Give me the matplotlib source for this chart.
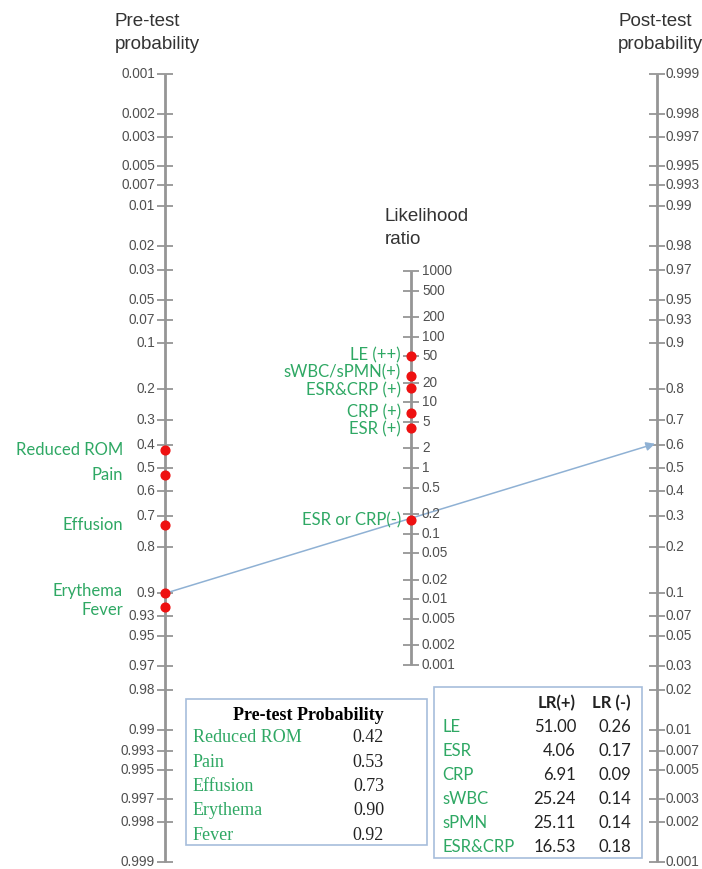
import numpy as np
import matplotlib
matplotlib.use('Agg')
import matplotlib.pyplot as plt
from matplotlib.patches import Rectangle

# axis tick values
pre_ticks = [0.001, 0.002, 0.003, 0.005, 0.007, 0.01, 0.02, 0.03, 0.05, 0.07, 0.1,
             0.2, 0.3, 0.4, 0.5, 0.6, 0.7, 0.8, 0.9, 0.93, 0.95, 0.97, 0.98, 0.99,
             0.993, 0.995, 0.997, 0.998, 0.999]
post_ticks = pre_ticks
lr_ticks = [1000, 500, 200, 100, 50, 20, 10, 5, 2, 1, 0.5, 0.2, 0.1, 0.05, 0.02,
            0.01, 0.005, 0.002, 0.001]

# pre-test probabilities
pre_names = ['Reduced ROM', 'Pain', 'Effusion', 'Erythema', 'Fever']
pre_probs = [0.42, 0.53, 0.73, 0.90, 0.92]

# likelihood ratio points on the middle axis
lr_labels = ['LE (++)', 'sWBC/sPMN(+)', 'ESR&CRP (+)', 'CRP (+)', 'ESR (+)', 'ESR or CRP(-)']
lr_points = [51.0, 25.2, 16.53, 6.91, 4.06, 0.16]

# likelihood ratio table
tests = ['LE', 'ESR', 'CRP', 'sWBC', 'sPMN', 'ESR&CRP']
lr_pos = [51.00, 4.06, 6.91, 25.24, 25.11, 16.53]
lr_neg = [0.26, 0.17, 0.09, 0.14, 0.14, 0.18]

# worked example: Erythema with ESR or CRP negative
ex_pre = 0.90
ex_lr = 0.17


def logit(p):
    p = np.asarray(p, dtype=float)
    return np.log(p / (1 - p))


ex_post = 1 / (1 + np.exp(-(logit(ex_pre) + np.log(ex_lr))))

GREEN = '#2fa864'
GRAY = '#959595'
TXT = '#505050'
BOX = '#a7bddb'
SANS = 'Liberation Sans'
HUM = 'Lato'

fig = plt.figure(figsize=(7.02, 8.69), dpi=100)
ax = fig.add_axes([0, 0, 1, 1])
# x: -1 pre-test, 0 likelihood ratio, 1 post-test ; y: logit units
SX, CX, SY, CY = 246.0, 411.0, 57.05, 468.0
ax.set_xlim(-CX / SX, (702 - CX) / SX)
ax.set_ylim((CY - 869) / SY, CY / SY)
ax.axis('off')


def X(px):
    return (px - CX) / SX


def Y(py):
    return (CY - py) / SY


y_pre = -logit(pre_ticks)
y_post = logit(post_ticks)
y_lr = np.log(lr_ticks) / 2

# axes lines and ticks
for xa, ys in [(-1, y_pre), (0, y_lr), (1, y_post)]:
    ax.plot([xa, xa], [ys.min(), ys.max()], color=GRAY, lw=2, solid_capstyle='butt', zorder=1)
    ax.plot(np.full(len(ys), xa), ys, ls='none', marker='_', ms=11, mew=1.3, color=GRAY, zorder=1)

for t, y in zip(pre_ticks, y_pre):
    ax.text(-1 - 10 / SX, y, f'{t:g}', ha='right', va='center', fontsize=9.8,
            color=TXT, family=SANS)
for t, y in zip(post_ticks, y_post):
    ax.text(1 + 9 / SX, y, f'{t:g}', ha='left', va='center', fontsize=9.8,
            color=TXT, family=SANS)
for t, y in zip(lr_ticks, y_lr):
    ax.text(0 + 11 / SX, y, f'{t:g}', ha='left', va='center', fontsize=9.8,
            color=TXT, family=SANS)

# axis titles
for xt, yt, s in [(115, 13, 'Pre-test\nprobability'), (618, 13, 'Post-test\nprobability'),
                  (385, 208, 'Likelihood\nratio')]:
    ax.text(X(xt), Y(yt), s, ha='left', va='top', fontsize=13.5,
            color='#333333', family=SANS, linespacing=1.45)

# example line with arrow
ax.annotate('', xy=(1 - 2 / SX, logit(ex_post)), xytext=(-1, -logit(ex_pre)),
            arrowprops=dict(arrowstyle='-|>', color='#8fb1d4', lw=1.1,
                            mutation_scale=13, shrinkA=0, shrinkB=0), zorder=2)

# pre-test points
py = -logit(pre_probs)
ax.plot(np.full(len(py), -1), py, 'o', color='#ee1111', ms=6.3, zorder=3)
pre_shift = [0, 0, 0, -2, 3]
for name, y, s in zip(pre_names, py, pre_shift):
    ax.text(X(123), y - s / SY, name, ha='right', va='center', fontsize=12,
            color=GREEN, family=HUM)

# likelihood ratio points
ly = np.log(lr_points) / 2
ax.plot(np.zeros(len(ly)), ly, 'o', color='#ee1111', ms=6.3, zorder=3)
lr_shift = [0, -4, 2, 0, 1, 0]
for name, y, s in zip(lr_labels, ly, lr_shift):
    ax.text(X(401), y - s / SY, name, ha='right', va='center', fontsize=12,
            color=GREEN, family=HUM)

# pre-test table
ax.add_patch(Rectangle((X(186), Y(845)), X(427) - X(186), Y(699) - Y(845),
                       fill=False, ec=BOX, lw=1.2))
ax.text(X(308), Y(715), 'Pre-test Probability', ha='center', va='center', fontsize=13,
        fontweight='bold', color='black', family='Liberation Serif')
for i, (name, p) in enumerate(zip(pre_names, pre_probs)):
    yy = Y(738 + 24.3 * i)
    ax.text(X(193), yy, name, ha='left', va='center', fontsize=13, color=GREEN,
            family='Liberation Serif')
    ax.text(X(384), yy, f'{p:.2f}', ha='right', va='center', fontsize=13, color='#222222',
            family='Liberation Serif')

# likelihood ratio table
ax.add_patch(Rectangle((X(434), Y(858)), X(642) - X(434), Y(687) - Y(858),
                       fill=False, ec=BOX, lw=1.2))
ax.text(X(576), Y(703), 'LR(+)', ha='right', va='center', fontsize=12, fontweight='bold',
        color='#222222', family=HUM)
ax.text(X(631), Y(703), 'LR (-)', ha='right', va='center', fontsize=12, fontweight='bold',
        color='#222222', family=HUM)
for i, (name, a, b) in enumerate(zip(tests, lr_pos, lr_neg)):
    yy = Y(727 + 24 * i)
    ax.text(X(442), yy, name, ha='left', va='center', fontsize=12, color=GREEN, family=HUM)
    ax.text(X(576), yy, f'{a:.2f}', ha='right', va='center', fontsize=12, color='#222222',
            family=HUM)
    ax.text(X(631), yy, f'{b:.2f}', ha='right', va='center', fontsize=12, color='#222222',
            family=HUM)

fig.savefig('out.png', dpi=100)
